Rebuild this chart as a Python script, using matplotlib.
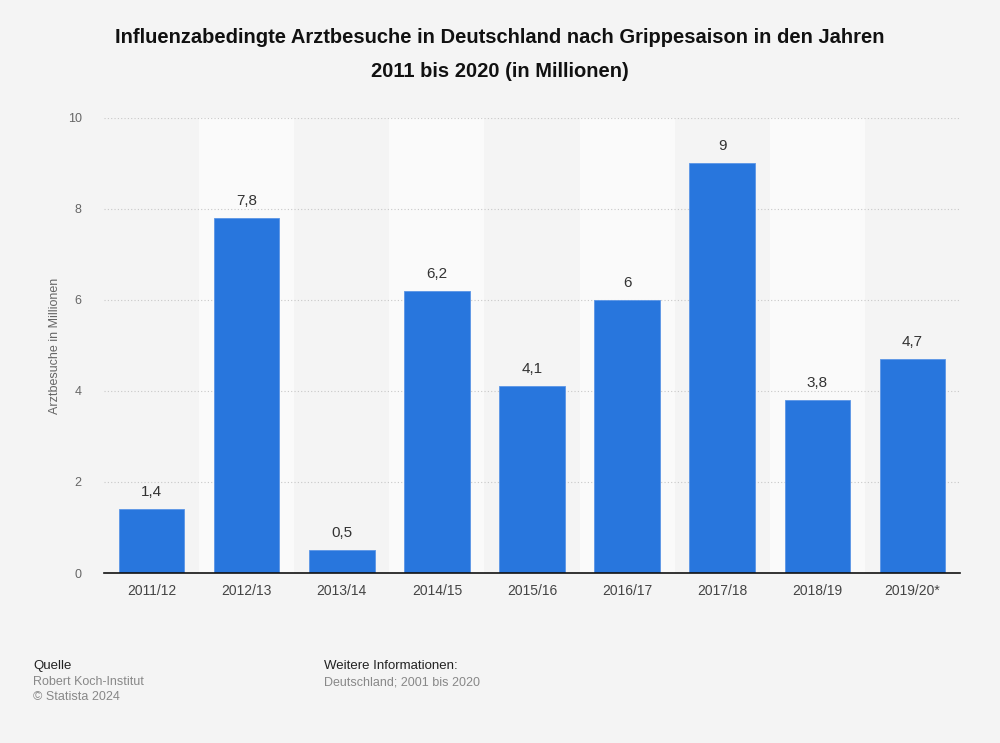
import numpy as np
import matplotlib.pyplot as plt

plt.rcParams['font.family'] = ['Liberation Sans', 'DejaVu Sans']

seasons = ['2011/12', '2012/13', '2013/14', '2014/15', '2015/16',
           '2016/17', '2017/18', '2018/19', '2019/20*']
visits = [1.4, 7.8, 0.5, 6.2, 4.1, 6.0, 9.0, 3.8, 4.7]
labels = ['1,4', '7,8', '0,5', '6,2', '4,1', '6', '9', '3,8', '4,7']

bg = '#f4f4f4'
fig = plt.figure(figsize=(10, 7.43), dpi=100, facecolor=bg)
ax = fig.add_axes([0.104, 0.2288, 0.856, 0.6124])
ax.set_facecolor(bg)

x = np.arange(len(seasons))
# lighter bands behind every second category
for i in x[1::2]:
    ax.axvspan(i - 0.5, i + 0.5, color='#fafafa', zorder=0, lw=0)

ax.bar(x, visits, width=0.69, color='#2876dd', edgecolor='#5b95e6',
       linewidth=0.6, zorder=3)
for xi, v, lab in zip(x, visits, labels):
    ax.text(xi, v + 0.22, lab, ha='center', va='bottom', fontsize=11,
            color='#333333', zorder=4)

ax.set_xlim(-0.5, len(seasons) - 0.5)
ax.set_ylim(0, 10)
ax.set_yticks([0, 2, 4, 6, 8, 10])
ax.set_yticklabels(['0', '2', '4', '6', '8', '10'])
ax.set_xticks(x)
ax.set_xticklabels(seasons)
ax.yaxis.grid(True, linestyle=(0, (1, 2)), color='#c8c8c8', linewidth=0.8, zorder=1)
ax.tick_params(axis='y', length=0, pad=16, labelsize=9, labelcolor='#666666')
ax.tick_params(axis='x', length=0, pad=8, labelsize=10, labelcolor='#444444')
for s in ['top', 'right', 'left']:
    ax.spines[s].set_visible(False)
ax.spines['bottom'].set_color('#111111')
ax.spines['bottom'].set_linewidth(1.2)
ax.spines['bottom'].set_zorder(5)

ax.set_ylabel('Arztbesuche in Millionen', fontsize=9, color='#666666', labelpad=5)

fig.text(0.5, 0.950, 'Influenzabedingte Arztbesuche in Deutschland nach Grippesaison in den Jahren',
         ha='center', va='center', fontsize=14.5, fontweight='bold', color='#111111')
fig.text(0.5, 0.904, '2011 bis 2020 (in Millionen)',
         ha='center', va='center', fontsize=14.5, fontweight='bold', color='#111111')

fig.text(0.033, 0.104, 'Quelle', fontsize=9.5, color='#222222', va='center')
fig.text(0.033, 0.082, 'Robert Koch-Institut', fontsize=9, color='#888888', va='center')
fig.text(0.033, 0.062, '\u00a9 Statista 2024', fontsize=9, color='#888888', va='center')
fig.text(0.324, 0.104, 'Weitere Informationen:', fontsize=9.5, color='#222222', va='center')
fig.text(0.324, 0.082, 'Deutschland; 2001 bis 2020', fontsize=9, color='#888888', va='center')

fig.savefig('out.png', dpi=100, facecolor=bg)
